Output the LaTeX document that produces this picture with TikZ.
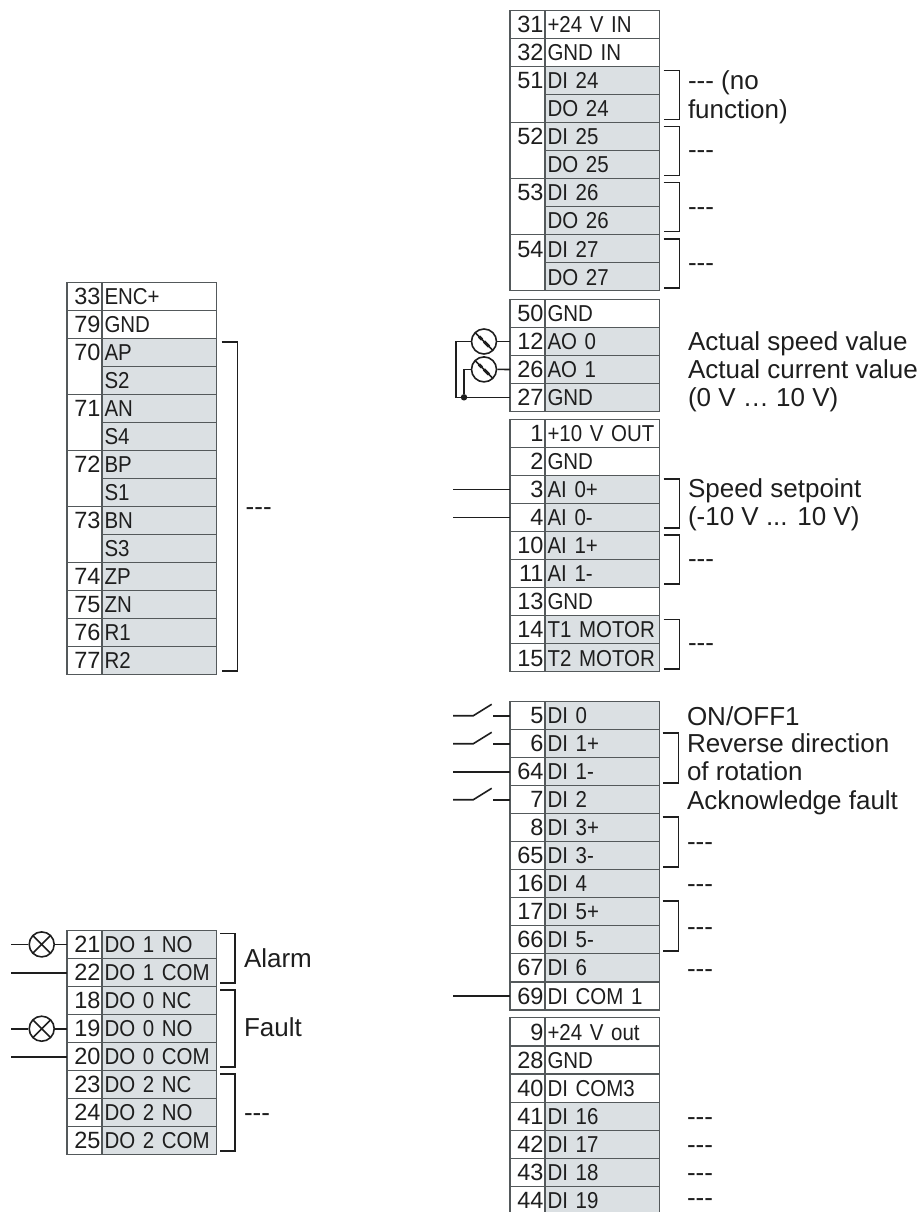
\documentclass[tikz,border=0pt]{standalone}
\usepackage{fontspec}
\usepackage{tikz}
\newfontfamily\termfont[FakeStretch=0.89,WordSpace=0.6]{Liberation Sans}
\newfontfamily\numfont{Liberation Sans}
\definecolor{cellgrey}{HTML}{DBE0E3}
\definecolor{celledge}{HTML}{54595B}
\definecolor{wire}{HTML}{1E1E1E}
\newcommand{\nofunc}{-{}-{}-}

\begin{document}
\begin{tikzpicture}[
x=1pt, y=-1pt,
numnode/.style={rectangle, draw=celledge, line width=1.3pt, fill=white, anchor=north west, outer sep=0pt, inner xsep=1.5pt, inner ysep=0pt, text width=32pt, align=right, minimum height=28pt, text height=16.5pt, text depth=0pt, text=wire, font=\numfont\fontsize{23.5}{23.5}\selectfont},
tallnode/.style={numnode, minimum height=56pt, text depth=28pt},
labelnode/.style={rectangle, draw=celledge, line width=1.3pt, fill=white, anchor=north west, outer sep=0pt, inner xsep=2.5pt, inner ysep=0pt, text width=109.5pt, align=left, minimum height=28pt, text height=16.5pt, text depth=0pt, text=wire, font=\termfont\fontsize{23}{23}\selectfont},
greynode/.style={labelnode, fill=cellgrey},
annot/.style={anchor=base west, inner sep=0pt, outer sep=0pt, text=wire, font=\numfont\fontsize{26}{28}\selectfont},
brack/.style={draw=wire, line width=1.7pt},
wireline/.style={draw=wire, line width=1.6pt},
lampnode/.style={circle, draw=wire, line width=1.6pt, minimum size=25pt, inner sep=0pt, path picture={\draw [line width=1.6pt, wire] (path picture bounding box.north west) -- (path picture bounding box.south east) (path picture bounding box.south west) -- (path picture bounding box.north east);}},
meternode/.style={circle, draw=wire, line width=1.6pt, minimum size=25pt, inner sep=0pt, path picture={\draw [line width=1.6pt, wire] (path picture bounding box.north west) -- (path picture bounding box.south east); \draw [line width=3pt, wire] (path picture bounding box.center) -- ++(5,5) ++(-10,-10) -- ++(3,3);}},
dotnode/.style={circle, fill=wire, minimum size=6.5pt, inner sep=0pt}
]
\useasboundingbox (0,0) rectangle (921,1212);

    \node [numnode] (n31) at (510,10.5) {31};
    \node [labelnode] (l31) at (545,10.5) {+24 V IN};
    \node [numnode] (n32) at (510,38.5) {32};
    \node [labelnode] (l32) at (545,38.5) {GND IN};
    \node [tallnode] (n51) at (510,66.5) {51};
    \node [greynode] (l51) at (545,66.5) {DI 24};
    \node [greynode] (l51b) at (545,94.5) {DO 24};
    \node [tallnode] (n52) at (510,122.5) {52};
    \node [greynode] (l52) at (545,122.5) {DI 25};
    \node [greynode] (l52b) at (545,150.5) {DO 25};
    \node [tallnode] (n53) at (510,178.5) {53};
    \node [greynode] (l53) at (545,178.5) {DI 26};
    \node [greynode] (l53b) at (545,206.5) {DO 26};
    \node [tallnode] (n54) at (510,234.8) {54};
    \node [greynode] (l54) at (545,234.8) {DI 27};
    \node [greynode] (l54b) at (545,262.8) {DO 27};

    \node [numnode] (n50) at (510,299.5) {50};
    \node [labelnode] (l50) at (545,299.5) {GND};
    \node [numnode] (n12) at (510,327.5) {12};
    \node [greynode] (l12) at (545,327.5) {AO 0};
    \node [numnode] (n26) at (510,355.5) {26};
    \node [greynode] (l26) at (545,355.5) {AO 1};
    \node [numnode] (n27) at (510,383.3) {27};
    \node [greynode] (l27) at (545,383.3) {GND};

    \node [numnode] (n1) at (510,419.5) {1};
    \node [labelnode] (l1) at (545,419.5) {+10 V OUT};
    \node [numnode] (n2) at (510,447.3) {2};
    \node [labelnode] (l2) at (545,447.3) {GND};
    \node [numnode] (n3) at (510,475.3) {3};
    \node [greynode] (l3) at (545,475.3) {AI 0+};
    \node [numnode] (n4) at (510,503.3) {4};
    \node [greynode] (l4) at (545,503.3) {AI 0-};
    \node [numnode] (n10) at (510,531.3) {10};
    \node [greynode] (l10) at (545,531.3) {AI 1+};
    \node [numnode] (n11) at (510,559.3) {11};
    \node [greynode] (l11) at (545,559.3) {AI 1-};
    \node [numnode] (n13) at (510,587.3) {13};
    \node [labelnode] (l13) at (545,587.3) {GND};
    \node [numnode] (n14) at (510,615.6) {14};
    \node [greynode] (l14) at (545,615.6) {T1 MOTOR};
    \node [numnode] (n15) at (510,643.8) {15};
    \node [greynode] (l15) at (545,643.8) {T2 MOTOR};

    \node [numnode] (n5) at (510,701.7) {5};
    \node [greynode] (l5) at (545,701.7) {DI 0};
    \node [numnode] (n6) at (510,729.7) {6};
    \node [greynode] (l6) at (545,729.7) {DI 1+};
    \node [numnode] (n64) at (510,757.7) {64};
    \node [greynode] (l64) at (545,757.7) {DI 1-};
    \node [numnode] (n7) at (510,785.7) {7};
    \node [greynode] (l7) at (545,785.7) {DI 2};
    \node [numnode] (n8) at (510,813.7) {8};
    \node [greynode] (l8) at (545,813.7) {DI 3+};
    \node [numnode] (n65) at (510,841.7) {65};
    \node [greynode] (l65) at (545,841.7) {DI 3-};
    \node [numnode] (n16) at (510,869.7) {16};
    \node [greynode] (l16) at (545,869.7) {DI 4};
    \node [numnode] (n17) at (510,897.7) {17};
    \node [greynode] (l17) at (545,897.7) {DI 5+};
    \node [numnode] (n66) at (510,925.7) {66};
    \node [greynode] (l66) at (545,925.7) {DI 5-};
    \node [numnode] (n67) at (510,953.7) {67};
    \node [greynode] (l67) at (545,953.7) {DI 6};
    \node [numnode] (n69) at (510,981.9) {69};
    \node [labelnode] (l69) at (545,981.9) {DI COM 1};

    \node [numnode] (n9) at (510,1017.8) {9};
    \node [labelnode] (l9) at (545,1017.8) {+24 V out};
    \node [numnode] (n28) at (510,1046.1) {28};
    \node [labelnode] (l28) at (545,1046.1) {GND};
    \node [numnode] (n40) at (510,1074.3) {40};
    \node [labelnode] (l40) at (545,1074.3) {DI COM3};
    \node [numnode] (n41) at (510,1102.3) {41};
    \node [greynode] (l41) at (545,1102.3) {DI 16};
    \node [numnode] (n42) at (510,1130.3) {42};
    \node [greynode] (l42) at (545,1130.3) {DI 17};
    \node [numnode] (n43) at (510,1158.3) {43};
    \node [greynode] (l43) at (545,1158.3) {DI 18};
    \node [numnode] (n44) at (510,1186.3) {44};
    \node [greynode] (l44) at (545,1186.3) {DI 19};

    \node [numnode] (n33) at (67,282.5) {33};
    \node [labelnode] (l33) at (102,282.5) {ENC+};
    \node [numnode] (n79) at (67,310.7) {79};
    \node [labelnode] (l79) at (102,310.7) {GND};
    \node [tallnode] (n70) at (67,338.7) {70};
    \node [greynode] (l70) at (102,338.7) {AP};
    \node [greynode] (l70b) at (102,366.7) {S2};
    \node [tallnode] (n71) at (67,394.7) {71};
    \node [greynode] (l71) at (102,394.7) {AN};
    \node [greynode] (l71b) at (102,422.7) {S4};
    \node [tallnode] (n72) at (67,450.7) {72};
    \node [greynode] (l72) at (102,450.7) {BP};
    \node [greynode] (l72b) at (102,478.7) {S1};
    \node [tallnode] (n73) at (67,506.7) {73};
    \node [greynode] (l73) at (102,506.7) {BN};
    \node [greynode] (l73b) at (102,534.7) {S3};
    \node [numnode] (n74) at (67,562.7) {74};
    \node [greynode] (l74) at (102,562.7) {ZP};
    \node [numnode] (n75) at (67,590.7) {75};
    \node [greynode] (l75) at (102,590.7) {ZN};
    \node [numnode] (n76) at (67,618.7) {76};
    \node [greynode] (l76) at (102,618.7) {R1};
    \node [numnode] (n77) at (67,646.7) {77};
    \node [greynode] (l77) at (102,646.7) {R2};

    \node [numnode] (n21) at (67,930.4) {21};
    \node [greynode] (l21) at (102,930.4) {DO 1 NO};
    \node [numnode] (n22) at (67,958.7) {22};
    \node [greynode] (l22) at (102,958.7) {DO 1 COM};
    \node [numnode] (n18) at (67,986.7) {18};
    \node [greynode] (l18) at (102,986.7) {DO 0 NC};
    \node [numnode] (n19) at (67,1014.7) {19};
    \node [greynode] (l19) at (102,1014.7) {DO 0 NO};
    \node [numnode] (n20) at (67,1042.7) {20};
    \node [greynode] (l20) at (102,1042.7) {DO 0 COM};
    \node [numnode] (n23) at (67,1070.7) {23};
    \node [greynode] (l23) at (102,1070.7) {DO 2 NC};
    \node [numnode] (n24) at (67,1098.7) {24};
    \node [greynode] (l24) at (102,1098.7) {DO 2 NO};
    \node [numnode] (n25) at (67,1126.7) {25};
    \node [greynode] (l25) at (102,1126.7) {DO 2 COM};

    \draw [brack] ([shift={(4,4)}]l51.north east) -| ([shift={(20,-3)}]l51b.south east) -- ++(-16,0);
    \draw [brack] ([shift={(4,4)}]l52.north east) -| ([shift={(20,-3)}]l52b.south east) -- ++(-16,0);
    \draw [brack] ([shift={(4,4)}]l53.north east) -| ([shift={(20,-3)}]l53b.south east) -- ++(-16,0);
    \draw [brack] ([shift={(4,4)}]l54.north east) -| ([shift={(20,-3)}]l54b.south east) -- ++(-16,0);
    \draw [brack] ([shift={(4,4)}]l3.north east) -| ([shift={(20,-3)}]l4.south east) -- ++(-16,0);
    \draw [brack] ([shift={(4,4)}]l10.north east) -| ([shift={(20,-3)}]l11.south east) -- ++(-16,0);
    \draw [brack] ([shift={(4,4)}]l14.north east) -| ([shift={(20,-3)}]l15.south east) -- ++(-16,0);
    \draw [brack] ([shift={(3,3.5)}]l6.north east) -| ([shift={(19,-3)}]l64.south east) -- ++(-16,0);
    \draw [brack] ([shift={(3,3.5)}]l8.north east) -| ([shift={(19,-3)}]l65.south east) -- ++(-16,0);
    \draw [brack] ([shift={(3,3.5)}]l17.north east) -| ([shift={(19,-3)}]l66.south east) -- ++(-16,0);
    \draw [brack] ([shift={(5,3)}]l70.north east) -| ([shift={(21,-4)}]l77.south east) -- ++(-16,0);
    \draw [brack] ([shift={(3.5,3)}]l21.north east) -| ([shift={(18.5,-3.5)}]l22.south east) -- ++(-15,0);
    \draw [brack] ([shift={(3.5,3)}]l18.north east) -| ([shift={(18.5,-3.5)}]l20.south east) -- ++(-15,0);
    \draw [brack] ([shift={(3.5,3)}]l23.north east) -| ([shift={(18.5,-3.5)}]l25.south east) -- ++(-15,0);

    \node [annot] (t1) at (688,90) {\nofunc{} (no};
    \node [annot] (t2) at (688,118) {function)};
    \node [annot] (t3) at (688,158.7) {\nofunc};
    \node [annot] (t4) at (688,215.3) {\nofunc};
    \node [annot] (t5) at (688,271.3) {\nofunc};
    \node [annot] (t6) at (688,350.7) {Actual speed value};
    \node [annot] (t7) at (688,378) {Actual current value};
    \node [annot] (t8) at (688,406) {(0 V … 10 V)};
    \node [annot] (t9) at (688,497) {Speed setpoint};
    \node [annot] (t10) at (688,525) {(-10 V ... 10 V)};
    \node [annot] (t11) at (688,567.7) {\nofunc};
    \node [annot] (t12) at (688,651.3) {\nofunc};
    \node [annot] (t13) at (687,725) {ON/OFF1};
    \node [annot] (t14) at (687,752.5) {Reverse direction};
    \node [annot] (t15) at (687,780) {of rotation};
    \node [annot] (t16) at (687,809) {Acknowledge fault};
    \node [annot] (t17) at (687,850.7) {\nofunc};
    \node [annot] (t18) at (687,892.7) {\nofunc};
    \node [annot] (t19) at (687,935) {\nofunc};
    \node [annot] (t20) at (687,977) {\nofunc};
    \node [annot] (t21) at (687,1125.3) {\nofunc};
    \node [annot] (t22) at (687,1153) {\nofunc};
    \node [annot] (t23) at (687,1181.3) {\nofunc};
    \node [annot] (t24) at (687,1206.5) {\nofunc};
    \node [annot] (t25) at (245.7,515.3) {\nofunc};
    \node [annot] (t26) at (244,967.3) {Alarm};
    \node [annot] (t27) at (244,1036.7) {Fault};
    \node [annot] (t28) at (244,1121.3) {\nofunc};

    \node [meternode] (m12) at (484,341.5) {};
    \node [meternode] (m26) at (484,369.4) {};
    \coordinate (c27) at (455.7,397.3);
    \node [dotnode] (j27) at (464,397.3) {};
    \draw [wireline] (m12) -- (n12);
    \draw [wireline] (m26) -- (n26);
    \draw [wireline] (m12) -| (c27) -- (n27);
    \draw [wireline] (m26) -| (j27);

    \coordinate (a3) at (453,489.3);
    \coordinate (a4) at (453,517.3);
    \coordinate (a64) at (453,771.7);
    \coordinate (a69) at (453,995.9);
    \draw [wireline] (a3) -- (n3);
    \draw [wireline] (a4) -- (n4);
    \draw [wireline] (a64) -- (n64);
    \draw [wireline] (a69) -- (n69);

    \coordinate (a5) at (453,715.7);
    \coordinate (b5) at (473.3,715.7);
    \coordinate (e5) at (491.7,704.3);
    \coordinate (f5) at (493.3,715.7);
    \draw [wireline] (a5) -- (b5) -- (e5);
    \draw [wireline] (f5) -- (n5);
    \coordinate (a6) at (453,743.7);
    \coordinate (b6) at (473.3,743.7);
    \coordinate (e6) at (491.7,732.3);
    \coordinate (f6) at (493.3,743.7);
    \draw [wireline] (a6) -- (b6) -- (e6);
    \draw [wireline] (f6) -- (n6);
    \coordinate (a7) at (453,799.7);
    \coordinate (b7) at (473.3,799.7);
    \coordinate (e7) at (491.7,788.3);
    \coordinate (f7) at (493.3,799.7);
    \draw [wireline] (a7) -- (b7) -- (e7);
    \draw [wireline] (f7) -- (n7);

    \node [lampnode] (h21) at (41.7,944.4) {};
    \node [lampnode] (h19) at (41.7,1028.7) {};
    \coordinate (a21) at (11,944.4);
    \coordinate (a19) at (11,1028.7);
    \coordinate (a22) at (11,972.7);
    \coordinate (a20) at (11,1056.7);
    \draw [wireline] (a21) -- (h21);
    \draw [wireline] (h21) -- (n21);
    \draw [wireline] (a19) -- (h19);
    \draw [wireline] (h19) -- (n19);
    \draw [wireline] (a22) -- (n22);
    \draw [wireline] (a20) -- (n20);
\end{tikzpicture}
\end{document}
